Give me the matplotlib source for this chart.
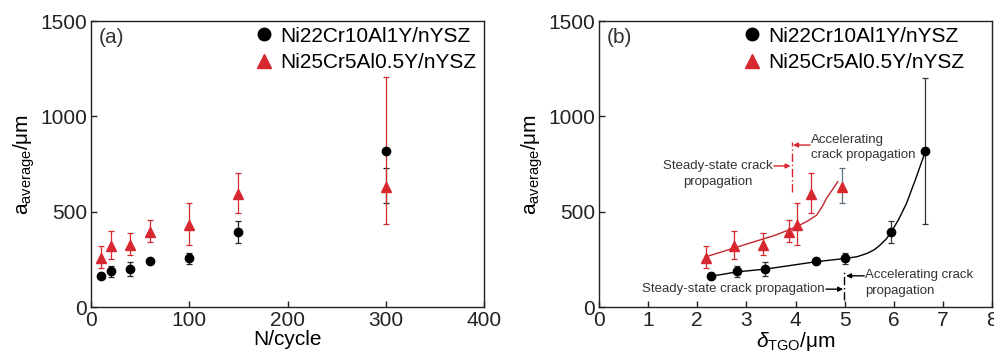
import matplotlib.pyplot as plt
import numpy as np

plt.rcParams['font.family'] = ['Liberation Sans', 'DejaVu Sans']
plt.rcParams['mathtext.fontset'] = 'custom'
plt.rcParams['mathtext.rm'] = 'Liberation Sans'
plt.rcParams['mathtext.it'] = 'Liberation Sans:italic'

RED = '#d7282f'
TXT = '#333333'

# --- data
n_black = [10, 20, 40, 60, 100, 150, 300]
a_black = [164, 189, 199, 241, 257, 393, 817]
lo_black_a = [150, 157, 164, 228, 227, 335, 545]
hi_black_a = [178, 213, 236, 254, 283, 454, 728]

n_red = [10, 20, 40, 60, 100, 150, 300]
a_red = [260, 321, 327, 396, 431, 594, 632]
lo_red_a = [204, 250, 274, 342, 327, 492, 437]
hi_red_a = [323, 400, 388, 457, 545, 705, 1205]

# panel b: TGO thickness
d_black = [2.28, 2.81, 3.38, 4.41, 5.00, 5.95, 6.64]
lo_black_b = [150, 157, 164, 228, 227, 335, 437]
hi_black_b = [178, 213, 236, 254, 283, 454, 1200]

d_red = [2.17, 2.75, 3.33, 3.87, 4.04, 4.31, 4.94]
lo_red_b = [204, 250, 274, 342, 327, 492, 545]
hi_red_b = [323, 400, 388, 457, 545, 705, 728]

# guide curves
fit_black_x = [2.29, 2.82, 3.38, 4.42, 5.01, 5.25, 5.45, 5.60, 5.72, 5.84, 5.94, 6.10, 6.26, 6.45, 6.64]
fit_black_y = [162, 185, 199, 238, 255, 264, 281, 300, 325, 355, 390, 460, 544, 675, 814]
fit_red_x = [2.18, 3.00, 3.60, 4.02, 4.25, 4.43, 4.55, 4.63, 4.75, 4.86]
fit_red_y = [264, 330, 378, 421, 452, 482, 530, 570, 615, 657]

labels = ['Ni22Cr10Al1Y/nYSZ', 'Ni25Cr5Al0.5Y/nYSZ']

fig = plt.figure(figsize=(9.95, 3.63), dpi=100)
ax1 = fig.add_axes([0.0915, 0.154, 0.395, 0.788])
ax2 = fig.add_axes([0.602, 0.154, 0.395, 0.788])


def bars(ax, x, lo, hi, color, zorder):
    lo = np.array(lo)
    hi = np.array(hi)
    mid = (lo + hi) / 2
    ax.errorbar(x, mid, yerr=(hi - lo) / 2, fmt='none', ecolor=color,
                elinewidth=0.9, capsize=2.2, capthick=0.9, zorder=zorder)


# (a)
bars(ax1, n_black, lo_black_a, hi_black_a, '#222222', 2)
bars(ax1, n_red, lo_red_a, hi_red_a, RED, 3)
ax1.plot(n_black, a_black, 'o', color='black', ms=6, label=labels[0], zorder=4)
ax1.plot(n_red, a_red, '^', color=RED, ms=6.5, label=labels[1], zorder=4)
ax1.set_xlim(0, 400)
ax1.set_xticks([0, 100, 200, 300, 400])
ax1.set_xlabel('N/cycle', fontsize=15, labelpad=0)
ax1.text(0.02, 0.975, '(a)', transform=ax1.transAxes, fontsize=15, va='top', color=TXT)

# (b)
bars(ax2, d_black, lo_black_b, hi_black_b, '#333333', 2)
bars(ax2, d_red[:-1], lo_red_b[:-1], hi_red_b[:-1], RED, 3)
bars(ax2, d_red[-1:], lo_red_b[-1:], hi_red_b[-1:], '#5f7080', 3)
ax2.plot(fit_black_x, fit_black_y, '-', color='black', lw=1.0, zorder=1)
ax2.plot(fit_red_x, fit_red_y, '-', color='#c0282f', lw=1.0, zorder=1)
ax2.plot(d_black, a_black, 'o', color='black', ms=6, label=labels[0], zorder=4)
ax2.plot(d_red, a_red, '^', color=RED, ms=6.5, label=labels[1], zorder=4)
ax2.set_xlim(0, 8)
ax2.set_xticks(range(9))
ax2.set_xlabel(r'$\mathit{\delta}_{\mathrm{TGO}}$/μm', fontsize=15, labelpad=0)
ax2.text(0.02, 0.975, '(b)', transform=ax2.transAxes, fontsize=15, va='top', color=TXT)

# transition markers
ax2.plot([3.92, 3.92], [605, 868], color=RED, lw=1.0, ls=(0, (6, 2, 1, 2)))
ax2.plot([4.99, 4.99], [38, 187], color='black', lw=1.0, ls=(0, (6, 2, 1, 2)))

arr_red = dict(arrowstyle='-|>', color=RED, lw=1.0, mutation_scale=7, shrinkA=0, shrinkB=0)
arr_blk = dict(arrowstyle='-|>', color='black', lw=1.0, mutation_scale=7, shrinkA=0, shrinkB=0)
ax2.annotate('', xy=(3.90, 740), xytext=(3.56, 740), arrowprops=arr_red)
ax2.annotate('', xy=(3.95, 850), xytext=(4.30, 850), arrowprops=arr_red)
ax2.annotate('', xy=(4.97, 94), xytext=(4.62, 94), arrowprops=arr_blk)
ax2.annotate('', xy=(5.03, 164), xytext=(5.40, 164), arrowprops=arr_blk)

fs = 9.5
ax2.text(2.42, 740, 'Steady-state crack', fontsize=fs, ha='center', va='center', color=TXT)
ax2.text(2.42, 654, 'propagation', fontsize=fs, ha='center', va='center', color=TXT)
ax2.text(4.32, 876, 'Accelerating', fontsize=fs, ha='left', va='center', color=TXT)
ax2.text(4.32, 795, 'crack propagation', fontsize=fs, ha='left', va='center', color=TXT)
ax2.text(4.59, 94, 'Steady-state crack propagation', fontsize=fs, ha='right', va='center', color=TXT)
ax2.text(5.42, 168, 'Accelerating crack', fontsize=fs, ha='left', va='center', color=TXT)
ax2.text(5.42, 82, 'propagation', fontsize=fs, ha='left', va='center', color=TXT)

for ax, lx in ((ax1, 0.992), (ax2, 0.941)):
    ax.set_ylim(0, 1500)
    ax.set_yticks([0, 500, 1000, 1500])
    ax.set_ylabel(r'a$_{\mathrm{average}}$/μm', fontsize=15, labelpad=2)
    ax.tick_params(direction='in', length=4, width=1, labelsize=15, pad=3,
                   top=False, right=False, colors='#222222')
    for s in ax.spines.values():
        s.set_linewidth(1.0)
        s.set_color('#222222')
    ax.legend(loc='upper right', bbox_to_anchor=(lx, 0.995), frameon=False,
              fontsize=15, handletextpad=0.2, markerscale=1.5, borderaxespad=0.0,
              labelspacing=0.35, handlelength=1.2, borderpad=0.2)

fig.savefig('out.png', dpi=100)
